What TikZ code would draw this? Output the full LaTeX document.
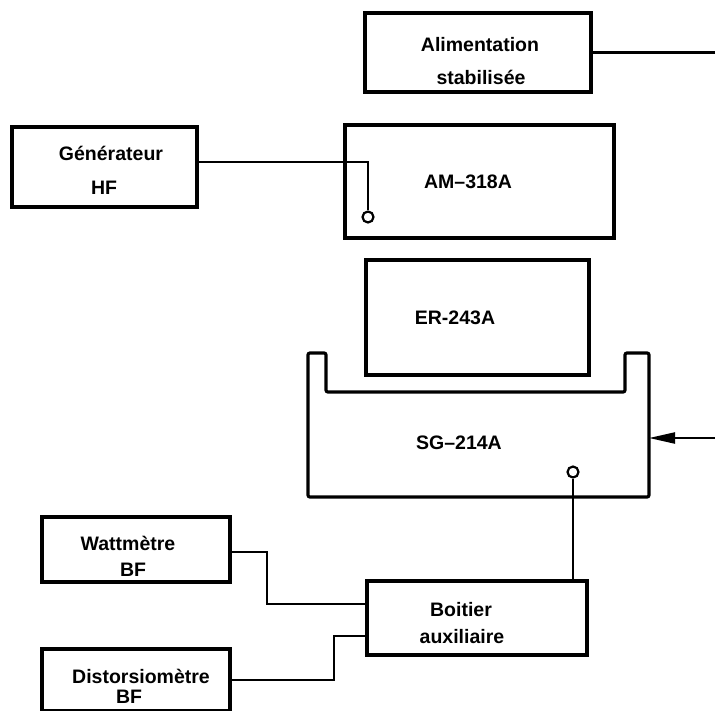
\documentclass[tikz,border=0pt]{standalone}
\usepackage{fontspec}
\setmainfont{Liberation Sans}
\usetikzlibrary{arrows.meta}
\tikzset{
  unitbox/.style={draw, line width=3.2pt, rectangle, inner sep=0pt},
  lbl/.style={font=\fontsize{19.5}{23}\selectfont\bfseries, inner sep=0pt},
  wire/.style={line width=2.2pt},
  port/.style={circle, draw, line width=2.2pt, minimum size=11pt, inner sep=0pt, fill=white},
}
\begin{document}
\begin{tikzpicture}[x=1pt,y=-1pt]
\useasboundingbox (0,0) rectangle (715,710);
% boxes
\node[unitbox, minimum width=226pt, minimum height=79pt] (alim) at (478,52.5) {};
\node[unitbox, minimum width=269pt, minimum height=113pt] (am) at (479.5,181.5) {};
\node[unitbox, minimum width=185pt, minimum height=80pt] (gen) at (104.5,167) {};
\node[unitbox, minimum width=223pt, minimum height=115pt] (er) at (477.5,317.5) {};
\node[unitbox, minimum width=220pt, minimum height=74pt] (aux) at (477,618) {};
\node[unitbox, minimum width=188pt, minimum height=65pt] (watt) at (136,549.5) {};
\node[unitbox, minimum width=188pt, minimum height=62pt] (dist) at (136,680) {};
% SG-214A housing
\draw[line width=3.2pt, rounded corners=2pt] (308,353) -- (308,497) -- (649,497) -- (649,353)
  -- (625,353) -- (625,392) -- (326,392) -- (326,353) -- cycle;
\coordinate (sgR) at (649,438);
% labels
\node[lbl] (t1) at (480,45) {Alimentation};
\node[lbl] (t2) at (481,77) {stabilisée};
\node[lbl] (t3) at (111,153) {Générateur};
\node[lbl] (t4) at (104,188) {HF};
\node[lbl] (t5) at (468,182) {AM–318A};
\node[lbl] (t6) at (455,318) {ER-243A};
\node[lbl] (t7) at (459,443) {SG–214A};
\node[lbl] (t8) at (128,543) {Wattmètre};
\node[lbl] (t9) at (133,570) {BF};
\node[lbl] (t10) at (141,676) {Distorsiomètre};
\node[lbl] (t11) at (129,697) {BF};
\node[lbl] (t12) at (461,610) {Boitier};
\node[lbl] (t13) at (462,637) {auxiliaire};
% ports
\node[port] (p1) at (368,217) {};
\node[port] (p2) at (573,472) {};
% free ends
\coordinate (rA) at (715,50);
\coordinate (rB) at (715,438);
% connectors
\draw[wire] (alim.east) -- (alim.east -| rA);
\draw[wire] ([yshift=5pt]gen.east) -| (p1.north);
\draw[wire] (p2.south) -- (p2.south |- aux.north);
\draw[wire, -{Triangle[length=26pt,width=11pt]}] (rB) -- (sgR);
\draw[wire] ([yshift=-2.5pt]watt.east) -- ++(35,0) |- ([yshift=14pt]aux.west);
\draw[wire] (dist.east) -- ++(102,0) |- ([yshift=-18pt]aux.west);
\end{tikzpicture}
\end{document}
